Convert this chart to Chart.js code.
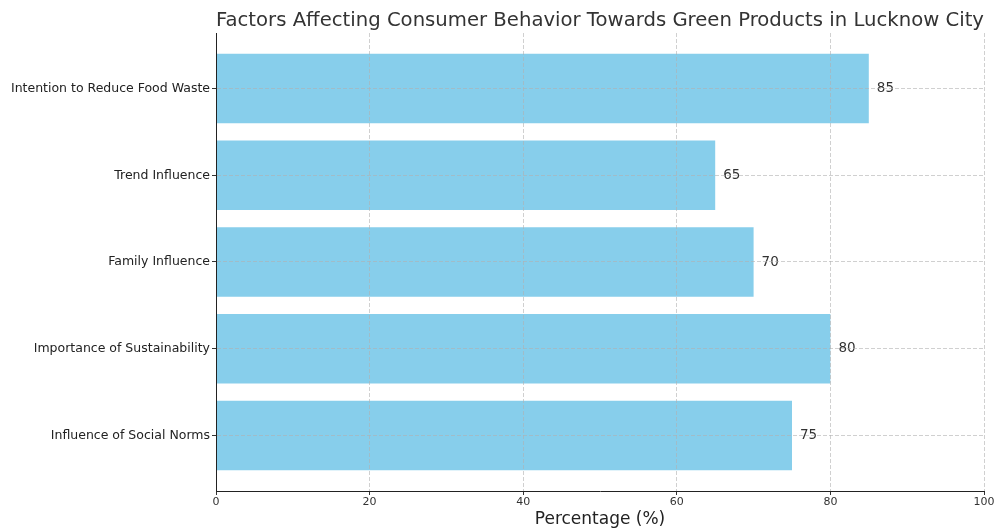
<!DOCTYPE html>
<html>
<head>
<meta charset="utf-8">
<script src="https://cdn.jsdelivr.net/npm/chart.js@4/dist/chart.umd.min.js"></script>
<style>
  html, body { margin: 0; padding: 0; background: #fff; }
  #wrap { width: 996px; height: 528px; }
</style>
</head>
<body>
<div id="wrap"><canvas id="chart" width="996" height="528"></canvas></div>
<script>
// bottom to top, like the source plot
const categories = [
    "Influence of Social Norms",
    "Importance of Sustainability",
    "Family Influence",
    "Trend Influence",
    "Intention to Reduce Food Waste"
];
const percentages = [75, 80, 70, 65, 85];
const xTicks = [0, 20, 40, 60, 80, 100];

const FONT = "'DejaVu Sans', sans-serif";
const GRID = 'rgba(176,176,176,0.6)';

// value labels at the end of each bar
const valueLabels = {
    id: 'valueLabels',
    afterDatasetsDraw(chart) {
        const ctx = chart.ctx;
        const xs = chart.scales.x, ys = chart.scales.y;
        ctx.save();
        ctx.font = '13.5px ' + FONT;
        ctx.fillStyle = '#333';
        ctx.textAlign = 'left';
        ctx.textBaseline = 'middle';
        percentages.forEach((v, i) => {
            ctx.fillText(String(v), xs.getPixelForValue(v) + 8, ys.getPixelForValue(i));
        });
        ctx.restore();
    }
};

new Chart(document.getElementById('chart').getContext('2d'), {
    type: 'bar',
    data: {
        datasets: [{
            data: percentages.map((v, i) => ({ x: v, y: i })),
            backgroundColor: '#87ceeb',
            borderWidth: 0,
            barPercentage: 0.8,
            categoryPercentage: 1.0
        }]
    },
    options: {
        indexAxis: 'y',
        responsive: false,
        animation: false,
        layout: { padding: { left: 0, right: 12, top: 0, bottom: 0 } },
        plugins: {
            legend: { display: false },
            tooltip: { enabled: false },
            title: {
                display: true,
                fullSize: false,
                text: 'Factors Affecting Consumer Behavior Towards Green Products in Lucknow City',
                color: '#333',
                font: { family: FONT, size: 20, weight: 'normal', lineHeight: 1.2 },
                padding: { top: 9, bottom: 0 }
            }
        },
        scales: {
            x: {
                type: 'linear',
                min: 0,
                max: 100,
                afterBuildTicks: s => { s.ticks = xTicks.map(v => ({ value: v })); },
                afterFit: s => { s.height = 37; },
                ticks: { color: '#333', font: { family: FONT, size: 11 }, padding: 1 },
                grid: {
                    z: 1,
                    color: GRID,
                    tickColor: '#333',
                    tickLength: 4,
                    tickBorderDash: []
                },
                // border.dash is what dashes the grid lines in v4
                border: { display: true, color: '#222', width: 1, z: 1, dash: [4, 2] },
                title: {
                    display: true,
                    text: 'Percentage (%)',
                    color: '#222',
                    font: { family: FONT, size: 17, lineHeight: 1 },
                    padding: { top: 2, bottom: 0 }
                }
            },
            y: {
                type: 'linear',
                offset: false,
                min: -0.64,
                max: 4.64,
                afterBuildTicks: s => { s.ticks = categories.map((c, i) => ({ value: i })); },
                afterFit: s => { s.width = 216; },
                ticks: {
                    color: '#222',
                    font: { family: FONT, size: 12.5 },
                    padding: 2,
                    callback: v => categories[v]
                },
                grid: {
                    z: 1,
                    offset: false,
                    color: GRID,
                    tickColor: '#333',
                    tickLength: 4,
                    tickBorderDash: []
                },
                border: { display: true, color: '#222', width: 1, z: 1, dash: [4, 2] }
            }
        }
    },
    plugins: [valueLabels]
});
</script>
</body>
</html>
